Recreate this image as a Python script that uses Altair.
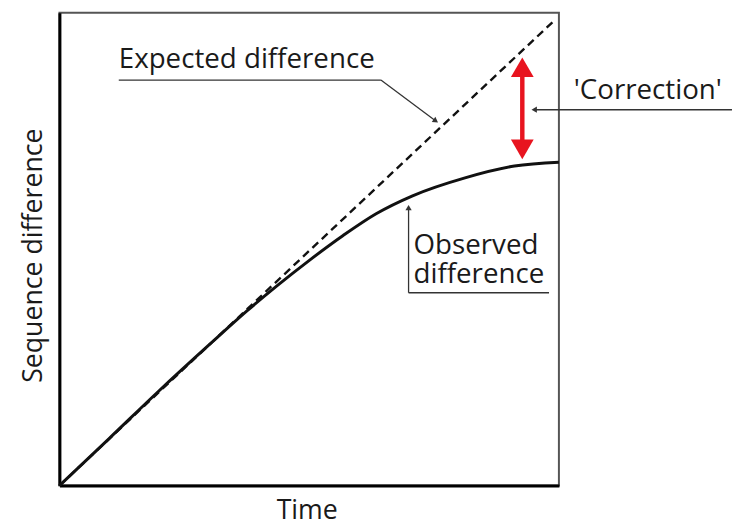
import altair as alt
import pandas as pd

# Expected (dashed) difference: straight line through origin
time_expected = [0.0, 0.99]
diff_expected = [0.0, 0.983]

# Observed (solid) difference: saturating curve
time_observed = [0.0, 0.1, 0.198, 0.3, 0.376, 0.436, 0.501, 0.568, 0.634, 0.707, 0.812, 0.911, 1.0]
diff_observed = [0.0, 0.1, 0.199, 0.298, 0.370, 0.423, 0.477, 0.529, 0.575, 0.613, 0.651, 0.676, 0.684]

# Annotation labels (data units); "\n" separates lines
label_text = ["Expected difference", "'Correction'", "Observed\ndifference"]
label_x = [0.1188, 1.0297, 0.7089]
label_y = [0.8828, 0.8180, 0.4895]

# Leader line segments
leader_x = [0.1188, 0.6436, 0.9505, 0.699, 0.699]
leader_y = [0.8577, 0.8577, 0.795, 0.5879, 0.4079]
leader_x2 = [0.6436, 0.7535, 1.3465, 0.699, 0.9802]
leader_y2 = [0.8577, 0.7713, 0.795, 0.4079, 0.4079]

# Small arrow heads on leader lines
head_x = [0.7535, 0.9505, 0.699]
head_y = [0.7713, 0.795, 0.5879]
head_angle = [125, 270, 0]

# Red 'Correction' double arrow
corr_x = [0.9267]
corr_top = [0.8849]
corr_bottom = [0.7113]

FONT = "Open Sans"

xscale = alt.Scale(domain=[0, 1], nice=False, zero=False)
yscale = alt.Scale(domain=[0, 1], nice=False, zero=False)
xaxis = alt.Axis(title="Time", ticks=False, labels=False, grid=False,
                 domainColor="black", domainWidth=3,
                 titleX=250, titleY=33, titleBaseline="alphabetic")
yaxis = alt.Axis(title="Sequence difference", ticks=False, labels=False, grid=False,
                 domainColor="black", domainWidth=3,
                 titleX=-18, titleY=245, titleBaseline="alphabetic")


def X(field="x"):
    return alt.X(f"{field}:Q", scale=xscale, axis=xaxis, title="Time")


def Y(field="y"):
    return alt.Y(f"{field}:Q", scale=yscale, axis=yaxis, title="Sequence difference")


exp_df = pd.DataFrame({"x": time_expected, "y": diff_expected})
obs_df = pd.DataFrame({"x": time_observed, "y": diff_observed})
lab_df = pd.DataFrame({"x": label_x, "y": label_y, "label": label_text})
lead_df = pd.DataFrame({"x": leader_x, "y": leader_y, "x2": leader_x2, "y2": leader_y2})
head_df = pd.DataFrame({"x": head_x, "y": head_y, "angle": head_angle})
corr_df = pd.DataFrame({"x": corr_x, "y": corr_top, "y2": corr_bottom})
corr_heads = pd.DataFrame({"x": corr_x * 2, "y": corr_top + corr_bottom, "angle": [0, 180]})

expected = alt.Chart(exp_df).mark_line(color="#111", strokeWidth=2.4, strokeDash=[8, 5]).encode(
    x=X(), y=Y())
observed = alt.Chart(obs_df).mark_line(color="#111", strokeWidth=3, interpolate="monotone").encode(
    x=X(), y=Y())
leaders = alt.Chart(lead_df).mark_rule(color="#333", strokeWidth=1.3).encode(
    x=X(), y=Y(), x2="x2:Q", y2="y2:Q")
heads = alt.Chart(head_df).mark_point(shape="triangle-up", filled=True, color="#333",
                                       size=40, opacity=1).encode(
    x=X(), y=Y(), angle=alt.Angle("angle:Q", scale=None))
corr_shaft = alt.Chart(corr_df).mark_rule(color="#e8141f", strokeWidth=4.5).encode(
    x=X(), y=Y(), y2="y2:Q")
corr_tips = alt.Chart(corr_heads).mark_point(shape="triangle-up", filled=True, color="#e8141f",
                                              size=529, opacity=1).encode(
    x=X(), y=Y(), angle=alt.Angle("angle:Q", scale=None))
labels = alt.Chart(lab_df).mark_text(align="left", baseline="alphabetic", font=FONT,
                                     fontSize=28, color="#1a1a1a",
                                     lineBreak="\n", lineHeight=29).encode(
    x=X(), y=Y(), text="label:N")

chart = alt.layer(expected, observed, leaders, heads, corr_shaft, corr_tips, labels).properties(
    width=505, height=478,
    autosize=alt.AutoSizeParams(type="none"),
    padding={"left": 52, "top": 2, "right": 175, "bottom": 41},
    background="white",
).configure_view(stroke="#555", strokeWidth=2).configure_axis(
    titleFont=FONT, titleFontSize=27, titleFontWeight="normal", titleColor="#1a1a1a"
)

chart.save("out.html", embed_options={"renderer": "svg", "actions": False})
